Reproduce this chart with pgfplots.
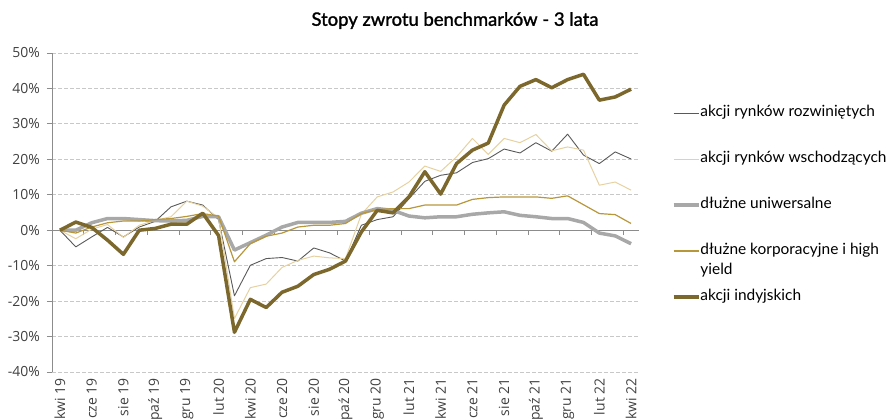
\documentclass[border=0pt]{standalone}
\usepackage{pgfplots}
\pgfplotsset{compat=1.18}
\usepackage{fontspec}
\setmainfont{Lato}
\newfontfamily\tickfont{Open Sans}
\newfontfamily\titlefont[FakeBold=1.5]{Lato}
\definecolor{cdev}{HTML}{595959}
\definecolor{cem}{HTML}{E6D1A0}
\definecolor{cuni}{HTML}{A8A8A8}
\definecolor{ccorp}{HTML}{B8963A}
\definecolor{cind}{HTML}{7C682C}
\definecolor{axgray}{HTML}{8C8C8C}
\definecolor{grgray}{HTML}{C8C8C8}
\definecolor{tickcol}{HTML}{404040}
\pgfplotstableread{
i dev em uni corp ind
0 0 0 0 0 0
1 -4.7 -2.4 0.0 -0.8 2.3
2 -1.9 0.3 2.1 0.9 0.8
3 0.8 1.6 3.3 2.1 -2.8
4 -1.9 -2.0 3.3 2.6 -6.8
5 0.9 1.4 3.0 2.6 0.0
6 2.5 2.8 2.7 3.0 0.5
7 6.6 3.8 2.6 3.3 1.7
8 8.2 8.2 2.8 3.9 1.7
9 7.1 6.8 3.9 4.7 4.8
10 3.0 3.5 3.8 4.0 -1.5
11 -18.5 -24.9 -5.6 -8.9 -28.8
12 -9.9 -16.2 -3.5 -3.8 -19.5
13 -8.0 -15.2 -1.4 -1.7 -21.8
14 -7.7 -10.5 0.9 -0.8 -17.5
15 -8.7 -8.5 2.2 0.9 -15.8
16 -5.0 -7.3 2.2 1.4 -12.5
17 -6.4 -7.8 2.2 1.4 -11.0
18 -8.7 -8.0 2.5 1.9 -8.7
19 1.4 4.5 4.8 4.7 -0.5
20 3.0 9.4 6.1 5.8 5.6
21 3.8 10.8 5.6 6.1 4.9
22 8.9 13.6 4.0 6.1 9.4
23 13.8 18.1 3.5 7.1 16.5
24 15.5 16.6 3.8 7.1 10.2
25 16.2 20.7 3.8 7.1 18.8
26 19.1 25.9 4.5 8.7 22.6
27 20.2 21.4 4.9 9.2 24.6
28 22.9 25.9 5.2 9.4 35.3
29 21.8 24.7 4.2 9.4 40.6
30 24.7 27.0 3.8 9.4 42.5
31 22.3 22.4 3.3 9.0 40.2
32 27.1 23.5 3.3 9.7 42.5
33 21.2 22.6 2.2 7.2 44.0
34 18.8 12.7 -0.8 4.7 36.7
35 22.1 13.6 -1.6 4.4 37.6
36 20.1 11.3 -3.8 1.9 39.8
}\data
\begin{document}
\begin{tikzpicture}
\begin{axis}[
  at={(52bp,48bp)}, anchor=south west,
  scale only axis, width=587bp, height=319bp,
  xmin=-0.5, xmax=36.5, ymin=-40, ymax=50,
  axis x line*=middle, axis y line*=left,
  hide obscured x ticks=false, hide obscured y ticks=false,
  axis line style={draw=axgray, line width=0.8bp},
  every tick/.style={draw=axgray, line width=0.8bp},
  major tick length=5bp,
  tick align=outside,
  ytick={-40,-30,...,50},
  yticklabels={-40\%,-30\%,-20\%,-10\%,0\%,10\%,20\%,30\%,40\%,50\%},
  ymajorgrids, grid style={draw=grgray, dash pattern=on 3.5bp off 2.5bp, line width=0.8bp},
  xtick={1.5,3.5,...,35.5}, xticklabels={},
  extra x ticks={0,2,...,36},
  extra x tick labels={kwi 19,cze 19,sie 19,paź 19,gru 19,lut 20,kwi 20,cze 20,sie 20,paź 20,gru 20,lut 21,kwi 21,cze 21,sie 21,paź 21,gru 21,lut 22,kwi 22},
  extra x tick style={major tick length=0pt, xmajorgrids=false, xticklabel shift=148bp,
     xticklabel style={rotate=90, anchor=east, inner sep=0pt}},
  tick label style={font=\tickfont\fontsize{14}{16}\selectfont, text=tickcol},
  yticklabel style={inner sep=0pt, xshift=-7bp},
  title={Stopy zwrotu benchmarków - 3 lata},
  title style={at={(axis description cs:0.6865,1.083)}, anchor=center, font=\titlefont\fontsize{18.5}{21}\selectfont, text=black},
  legend cell align=left,
  legend style={at={(axis description cs:1.0562,0.832)}, anchor=north west, draw=none, fill=none,
     inner sep=0pt, outer sep=0pt, row sep=33bp,
     font=\fontsize{15.5}{18}\selectfont,
     nodes={inner sep=0pt, text height=10bp, text depth=3bp},
     /tikz/every even column/.append style={column sep=3bp}},
  line join=round,
]
\addplot[no marks, draw=cdev, line width=0.9bp,
  legend image code/.code={\draw[cdev, line width=0.9bp] (0bp,0bp) -- (25bp,0bp);}] table[x=i,y=dev]{\data};
\addlegendentry{akcji rynków rozwiniętych}
\addplot[no marks, draw=cem, line width=1bp,
  legend image code/.code={\draw[cem, line width=1bp] (0bp,0bp) -- (25bp,0bp);}] table[x=i,y=em]{\data};
\addlegendentry{akcji rynków wschodzących}
\addplot[no marks, draw=cuni, line width=3.5bp,
  legend image code/.code={\draw[cuni, line width=3.5bp] (0bp,0bp) -- (25bp,0bp);}] table[x=i,y=uni]{\data};
\addlegendentry{dłużne uniwersalne}
\addplot[no marks, draw=ccorp, line width=1.2bp,
  legend image code/.code={\draw[ccorp, line width=1.4bp] (0bp,0bp) -- (25bp,0bp);}] table[x=i,y=corp]{\data};
\addlegendentry{\rlap{\raisebox{-20bp}[0pt][0pt]{yield}}dłużne korporacyjne i high}
\addplot[no marks, draw=cind, line width=3.5bp,
  legend image code/.code={\draw[cind, line width=3.5bp] (0bp,0bp) -- (25bp,0bp);}] table[x=i,y=ind]{\data};
\addlegendentry{akcji indyjskich}
\end{axis}
\pgfresetboundingbox
\path[use as bounding box] (0,0) rectangle (892bp,420bp);
\end{tikzpicture}
\end{document}
